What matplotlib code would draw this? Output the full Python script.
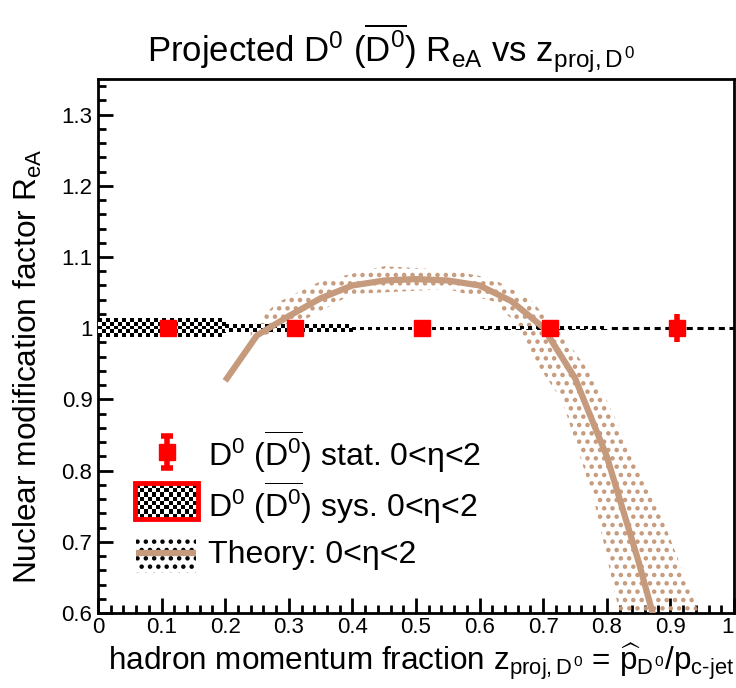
import numpy as np
import matplotlib
matplotlib.use("Agg")
import matplotlib.pyplot as plt
from matplotlib.patches import Rectangle, Polygon
from matplotlib.ticker import MultipleLocator

plt.rcParams['font.family'] = ['Liberation Sans', 'DejaVu Sans']
plt.rcParams['mathtext.fontset'] = 'custom'
plt.rcParams['mathtext.rm'] = 'Liberation Sans'
plt.rcParams['mathtext.it'] = 'Liberation Sans'
plt.rcParams['mathtext.bf'] = 'Liberation Sans:bold'

# ---------------- data ----------------
point_x = [0.11, 0.31, 0.51, 0.71, 0.91]
point_y = [1.0, 1.0, 1.0, 1.0, 1.0]
stat_err = [0.004, 0.004, 0.005, 0.006, 0.02]
sys_lo = [0.0, 0.2, 0.4, 0.6, 0.8]
sys_hi = [0.2, 0.4, 0.6, 0.8, 1.0]
sys_err = [0.013, 0.005, 0.002, 0.0015, 0.0]

theory_x = [0.20, 0.25, 0.30, 0.35, 0.40, 0.45, 0.50, 0.55, 0.60, 0.65, 0.70, 0.75, 0.80, 0.85, 0.875]
theory_y = [0.926, 0.99, 1.017, 1.042, 1.060, 1.067, 1.069, 1.067, 1.060, 1.038, 1.001, 0.93, 0.82, 0.672, 0.59]

band_hi_x = [0.24, 0.28, 0.35, 0.45, 0.55, 0.62, 0.68, 0.73, 0.78, 0.80, 0.88, 0.945]
band_hi_y = [1.00, 1.035, 1.066, 1.087, 1.082, 1.07, 1.04, 0.99, 0.93, 0.898, 0.75, 0.6]
band_lo_x = [0.24, 0.30, 0.40, 0.55, 0.62, 0.66, 0.69, 0.73, 0.78, 0.82]
band_lo_y = [0.985, 1.0, 1.048, 1.055, 1.038, 1.005, 0.95, 0.898, 0.758, 0.6]

xticks = [0, 0.1, 0.2, 0.3, 0.4, 0.5, 0.6, 0.7, 0.8, 0.9, 1.0]
yticks = [0.6, 0.7, 0.8, 0.9, 1.0, 1.1, 1.2, 1.3]

TAN = '#C69A7C'
RED = '#FF0000'

W, H = 736, 688
fig = plt.figure(figsize=(W / 100, H / 100), dpi=100)
ax = fig.add_axes([98 / W, (H - 613) / H, 636 / W, 534 / H])
ax.set_xlim(0, 1)
ax.set_ylim(0.6, 1.35)


def checker(nx, ny):
    i, j = np.meshgrid(np.arange(nx), np.arange(ny))
    return ((i + j) % 2).astype(float)


# theory band
poly = list(zip(band_hi_x, band_hi_y)) + list(zip(band_lo_x[::-1], band_lo_y[::-1]))
plt.rcParams['hatch.linewidth'] = 2.0
band = Polygon(poly, closed=True, facecolor='none', edgecolor=TAN, linewidth=0,
               hatch='..', zorder=2)
ax.add_patch(band)

# dashed line at 1
ax.axhline(1.0, color='black', lw=2.2, ls=(0, (2, 1.5)), zorder=3)

# systematic boxes (checker pattern)
px_per_x = 636.0
px_per_y = 534.0 / 0.75
for lo, hi, e in zip(sys_lo, sys_hi, sys_err):
    if e <= 0:
        continue
    nx = max(1, int(round((hi - lo) * px_per_x / 4)))
    ny = max(1, int(round(2 * e * px_per_y / 4)))
    ax.imshow(checker(nx, ny), cmap='gray', vmin=0, vmax=1, interpolation='nearest',
              extent=[lo, hi, 1.0 - e, 1.0 + e], aspect='auto', zorder=3)
ax.set_xlim(0, 1)
ax.set_ylim(0.6, 1.35)

# theory curve
ax.plot(theory_x, theory_y, color=TAN, lw=4.5, zorder=4, solid_capstyle='butt')

# points
ax.errorbar(point_x, point_y, yerr=stat_err, fmt='s', color=RED, ms=12, elinewidth=4,
            capsize=0, zorder=5)

# axes style
for s in ax.spines.values():
    s.set_linewidth(2.0)
ax.xaxis.set_minor_locator(MultipleLocator(0.02))
ax.yaxis.set_minor_locator(MultipleLocator(0.02))
ax.set_xticks(xticks)
ax.set_yticks(yticks)
ax.set_xticklabels(['%g' % v for v in xticks])
ax.set_yticklabels(['%g' % v for v in yticks])
ax.tick_params(which='major', direction='in', length=11, width=2, labelsize=16,
               top=False, right=False, pad=4)
ax.tick_params(which='minor', direction='in', length=6, width=2, top=False, right=False)
ax.tick_params(axis='x', pad=3)
ax.get_xticklabels()[-1].set_horizontalalignment('right')

ax.set_title(r'Projected D$^0$ ($\overline{\mathrm{D}^0}$) R$_{eA}$ vs z$_{proj,D^0}$',
             fontsize=25, pad=12, x=0.46)
ax.set_xlabel(r'hadron momentum fraction z$_{proj,D^0}$ = $\widehat{p}_{D^0}$/p$_{c\text{-}jet}$',
              fontsize=22.7, loc='right')
ax.xaxis.set_label_coords(1.0, -0.055)
ax.set_ylabel(r'Nuclear modification factor R$_{eA}$', fontsize=22.8, loc='top')
ax.yaxis.set_label_coords(-0.085, 0.87)

# legend (manual)
T = ax.transAxes


def fx(px):
    return (px - 98) / 636.0


def fy(py):
    return (613 - py) / 534.0


# stat entry
ax.errorbar([fx(167)], [fy(452)], yerr=[0.03], fmt='s', color=RED, ms=12, elinewidth=4,
            capsize=4, capthick=4, transform=T, zorder=6, clip_on=False)
# sys entry
ax.imshow(checker(15, 8), cmap='gray', vmin=0, vmax=1, interpolation='nearest',
          extent=[fx(136), fx(197), fy(518), fy(484)], aspect='auto', transform=T, zorder=6)
ax.add_patch(Rectangle((fx(135), fy(519)), fx(198) - fx(135), fy(483) - fy(519),
                       transform=T, facecolor='none', edgecolor=RED, lw=3.5, zorder=7))
ax.set_xlim(0, 1)
ax.set_ylim(0.6, 1.35)
# theory entry
ax.add_patch(Rectangle((fx(136), fy(573)), fx(196) - fx(136), fy(537) - fy(573),
                       transform=T, facecolor='none', edgecolor='black', lw=0, hatch='..',
                       zorder=6))
ax.plot([fx(136), fx(196)], [fy(553), fy(553)], color=TAN, lw=4.5, transform=T, zorder=7,
        solid_capstyle='butt')

leg_fs = 23
ax.text(fx(208), fy(452), r'D$^0$ ($\overline{\mathrm{D}^0}$) stat. 0<η<2', transform=T,
        fontsize=leg_fs, va='center', ha='left', zorder=8)
ax.text(fx(208), fy(503), r'D$^0$ ($\overline{\mathrm{D}^0}$) sys. 0<η<2', transform=T,
        fontsize=leg_fs, va='center', ha='left', zorder=8)
ax.text(fx(208), fy(555), 'Theory: 0<η<2', transform=T,
        fontsize=leg_fs, va='center', ha='left', zorder=8)

fig.savefig('out.png', dpi=100)
